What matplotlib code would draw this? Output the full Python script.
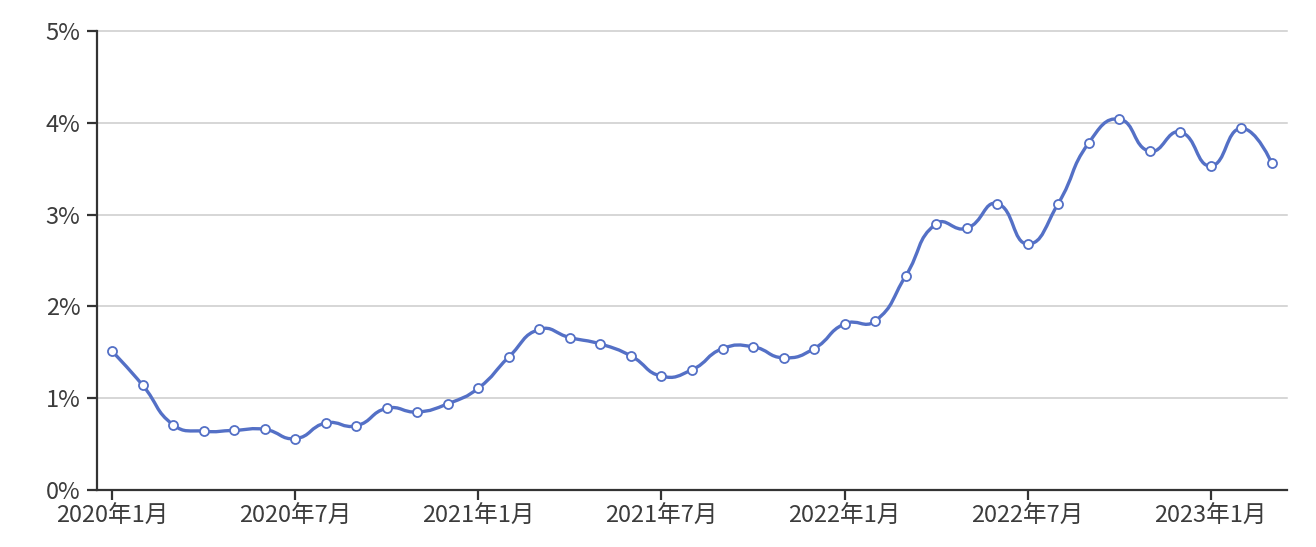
import numpy as np
import matplotlib
matplotlib.use('Agg')
import matplotlib.pyplot as plt
from matplotlib.path import Path
from matplotlib.patches import PathPatch

plt.rcParams['font.family'] = ['Noto Sans CJK SC', 'DejaVu Sans']

# monthly values, 2020-01 .. 2023-03 (percent)
months = ['%d年%d月' % (2020 + i // 12, i % 12 + 1) for i in range(39)]
values = [1.51, 1.14, 0.71, 0.64, 0.65, 0.66, 0.56, 0.73, 0.70, 0.89,
          0.85, 0.94, 1.11, 1.45, 1.75, 1.66, 1.59, 1.46, 1.24, 1.31,
          1.54, 1.56, 1.44, 1.54, 1.81, 1.84, 2.33, 2.90, 2.85, 3.12,
          2.68, 3.12, 3.78, 4.04, 3.69, 3.90, 3.53, 3.94, 3.56]
y_ticks = [0, 1, 2, 3, 4, 5]

LINE_COLOR = '#5470c6'
AXIS_COLOR = '#333333'
SMOOTH = 0.5
PX_X = 30.5   # pixels per month, for control point ratios
PX_Y = 91.8   # pixels per percent


def smooth_path(xs, ys):
    # echarts-like bezier smoothing
    n = len(xs)
    verts = [(xs[0], ys[0])]
    codes = [Path.MOVETO]
    cps = []
    for i in range(n):
        if i == 0 or i == n - 1:
            cps.append(((xs[i], ys[i]), (xs[i], ys[i])))
            continue
        vx = xs[i + 1] - xs[i - 1]
        vy = ys[i + 1] - ys[i - 1]
        d0 = np.hypot((xs[i] - xs[i - 1]) * PX_X, (ys[i] - ys[i - 1]) * PX_Y)
        d1 = np.hypot((xs[i + 1] - xs[i]) * PX_X, (ys[i + 1] - ys[i]) * PX_Y)
        r = d1 / (d0 + d1)
        before = (xs[i] - vx * SMOOTH * (1 - r), ys[i] - vy * SMOOTH * (1 - r))
        after = (xs[i] + vx * SMOOTH * r, ys[i] + vy * SMOOTH * r)
        cps.append((before, after))
    for i in range(1, n):
        verts += [cps[i - 1][1], cps[i][0], (xs[i], ys[i])]
        codes += [Path.CURVE4] * 3
    return Path(verts, codes)


fig = plt.figure(figsize=(13.16, 5.47), dpi=100)
ax = fig.add_axes([97 / 1316, 1 - 490 / 547, (1287 - 97) / 1316, (490 - 31) / 547])

x = np.arange(len(values))
ax.add_patch(PathPatch(smooth_path(x, values), fill=False, edgecolor=LINE_COLOR,
                       linewidth=2.4, zorder=3, capstyle='round', joinstyle='round'))
ax.plot(x, values, linestyle='none', marker='o', markersize=6.5,
        markerfacecolor='white', markeredgecolor=LINE_COLOR, markeredgewidth=1.3, zorder=4)

ax.set_xlim(-0.5, len(values) - 0.5)
ax.set_ylim(0, 5)

ax.set_yticks(y_ticks)
ax.set_yticklabels(['%d%%' % t for t in y_ticks])
ax.set_xticks(x[::6])
ax.set_xticklabels(months[::6])

for t in y_ticks[1:]:
    ax.axhline(t, color='#cccccc', linewidth=1.1, zorder=1, clip_on=False)

for s in ['top', 'right']:
    ax.spines[s].set_visible(False)
for s in ['left', 'bottom']:
    ax.spines[s].set_color(AXIS_COLOR)
    ax.spines[s].set_linewidth(1.6)
    ax.spines[s].set_zorder(2)

ax.tick_params(axis='both', colors=AXIS_COLOR, length=7, width=1.6, labelsize=17,
               labelcolor='#3c3c3c')
ax.tick_params(axis='y', pad=5)
ax.tick_params(axis='x', pad=4)

fig.savefig('out.png', dpi=100)
